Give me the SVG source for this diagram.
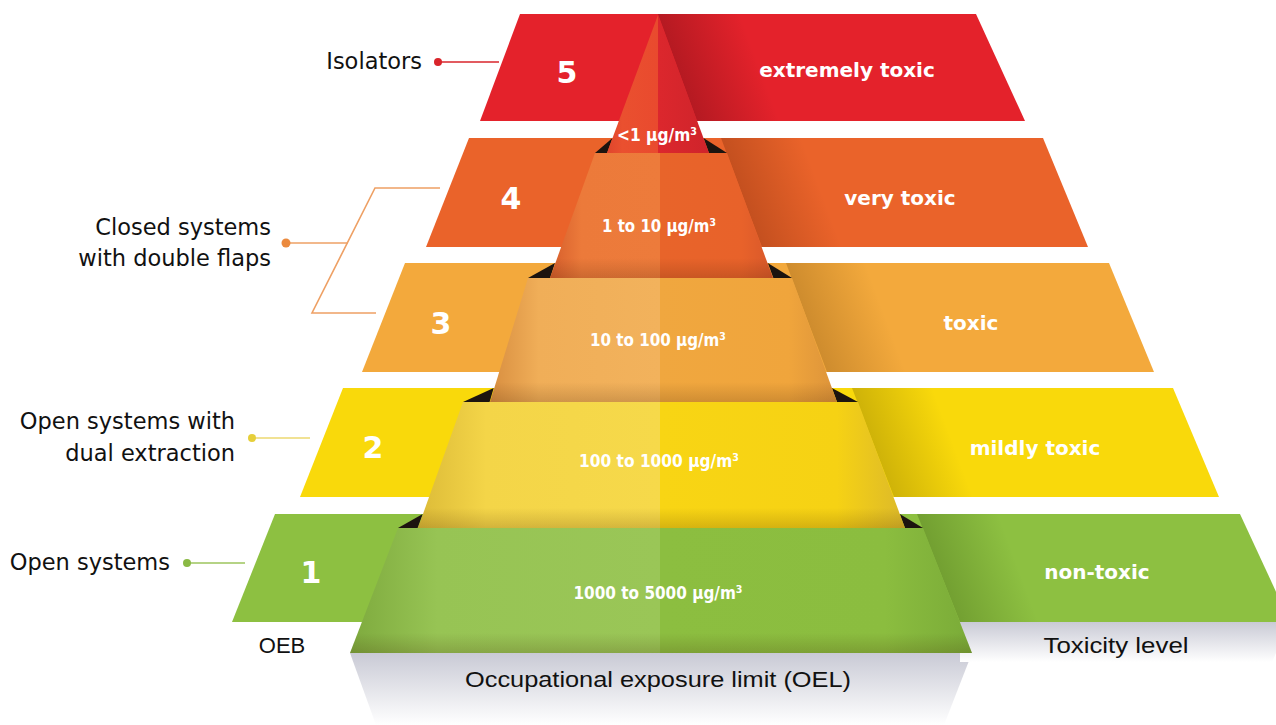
<svg xmlns="http://www.w3.org/2000/svg" width="1276" height="725" viewBox="0 0 1276 725">
  <defs>
    <style>
      .num{font-family:"DejaVu Sans","Liberation Sans",sans-serif;font-weight:bold;font-size:30px;fill:#fff;text-anchor:middle}
      .tox{font-family:"DejaVu Sans","Liberation Sans",sans-serif;font-weight:bold;font-size:20px;fill:#fff;text-anchor:middle}
      .oel{font-family:"DejaVu Sans Condensed","Liberation Sans Narrow","Liberation Sans",sans-serif;font-weight:bold;font-size:18px;fill:#fff;text-anchor:middle}
      .side{font-family:"DejaVu Sans","Liberation Sans",sans-serif;font-size:22.5px;fill:#111;text-anchor:end}
      .axis{font-family:"Liberation Sans Narrow","Liberation Sans",sans-serif;font-size:22px;fill:#111;text-anchor:middle}
      .gap{fill:#1c140f}
      .bshade{fill:url(#bottomShade)}
      .conn{fill:none;stroke-width:1.6}
    </style>

    <!-- face shading of the central pyramid sections: lighter left face, base right face -->
    <linearGradient id="seg5" x1="0" y1="0" x2="1" y2="0">
      <stop offset="0" stop-color="#e0452c"/>
      <stop offset="0.15" stop-color="#ea502f"/>
      <stop offset="0.5" stop-color="#e94a2e"/>
      <stop offset="0.5" stop-color="#dc272d"/>
      <stop offset="1" stop-color="#cf242b"/>
    </linearGradient>
    <linearGradient id="seg4" x1="0" y1="0" x2="1" y2="0">
      <stop offset="0" stop-color="#d65e2c"/>
      <stop offset="0.14" stop-color="#ec7a3a"/>
      <stop offset="0.495" stop-color="#ed7b3b"/>
      <stop offset="0.495" stop-color="#e8642a"/>
      <stop offset="0.86" stop-color="#e8622a"/>
      <stop offset="1" stop-color="#d8582a"/>
    </linearGradient>
    <linearGradient id="seg3" x1="0" y1="0" x2="1" y2="0">
      <stop offset="0" stop-color="#d88e40"/>
      <stop offset="0.14" stop-color="#f0ae58"/>
      <stop offset="0.49" stop-color="#f2b25c"/>
      <stop offset="0.49" stop-color="#f0a73f"/>
      <stop offset="0.86" stop-color="#f0a53c"/>
      <stop offset="1" stop-color="#dc933a"/>
    </linearGradient>
    <linearGradient id="seg2" x1="0" y1="0" x2="1" y2="0">
      <stop offset="0" stop-color="#dcbb38"/>
      <stop offset="0.14" stop-color="#f4d548"/>
      <stop offset="0.497" stop-color="#f6d94a"/>
      <stop offset="0.497" stop-color="#f8d514"/>
      <stop offset="0.86" stop-color="#f6d214"/>
      <stop offset="1" stop-color="#dcb92a"/>
    </linearGradient>
    <linearGradient id="seg1" x1="0" y1="0" x2="1" y2="0">
      <stop offset="0" stop-color="#7eaa3e"/>
      <stop offset="0.14" stop-color="#97c454"/>
      <stop offset="0.498" stop-color="#9ac657"/>
      <stop offset="0.498" stop-color="#8cbe40"/>
      <stop offset="0.86" stop-color="#8bbd3f"/>
      <stop offset="1" stop-color="#7aab38"/>
    </linearGradient>
    <linearGradient id="bottomShade" x1="0" y1="0" x2="0" y2="1">
      <stop offset="0.84" stop-color="#3a1a00" stop-opacity="0"/>
      <stop offset="1" stop-color="#3a1a00" stop-opacity="0.18"/>
    </linearGradient>

    <!-- cast shadows of the pyramid on the right part of each slab -->
    <linearGradient id="cast5" gradientUnits="userSpaceOnUse" x1="677" y1="67" x2="750" y2="40">
      <stop offset="0" stop-color="#5a0a10" stop-opacity="0.34"/>
      <stop offset="1" stop-color="#5a0a10" stop-opacity="0"/>
    </linearGradient>
    <linearGradient id="cast4" gradientUnits="userSpaceOnUse" x1="742" y1="192" x2="812" y2="166">
      <stop offset="0" stop-color="#5a1a00" stop-opacity="0.26"/>
      <stop offset="1" stop-color="#5a1a00" stop-opacity="0"/>
    </linearGradient>
    <linearGradient id="cast3" gradientUnits="userSpaceOnUse" x1="806" y1="317" x2="876" y2="291">
      <stop offset="0" stop-color="#5a3000" stop-opacity="0.24"/>
      <stop offset="1" stop-color="#5a3000" stop-opacity="0"/>
    </linearGradient>
    <linearGradient id="cast2" gradientUnits="userSpaceOnUse" x1="873" y1="442" x2="943" y2="416">
      <stop offset="0" stop-color="#4a3a00" stop-opacity="0.24"/>
      <stop offset="1" stop-color="#4a3a00" stop-opacity="0"/>
    </linearGradient>
    <linearGradient id="cast1" gradientUnits="userSpaceOnUse" x1="939" y1="568" x2="1009" y2="542">
      <stop offset="0" stop-color="#1f3a00" stop-opacity="0.24"/>
      <stop offset="1" stop-color="#1f3a00" stop-opacity="0"/>
    </linearGradient>

    <!-- floor shadows below the lowest tier -->
    <linearGradient id="floor" x1="0" y1="0" x2="0" y2="1">
      <stop offset="0" stop-color="#c9cad5"/>
      <stop offset="1" stop-color="#ffffff"/>
    </linearGradient>
  </defs>

  <rect width="1276" height="725" fill="#ffffff"/>

  <!-- floor shadows -->
  <g id="floor-shadow">
    <polygon points="350,653 972,653 944,725 376,725" fill="url(#floor)"/>
    <polygon points="960,622 1290,622 1272,662 960,662" fill="url(#floor)"/>
  </g>

  <!-- OEB 1 -->
  <g id="tier-1">
    <polygon points="275,514 1240,514 1290,622 232,622" fill="#8dc041"/>
    <polygon points="917,514 1040,514 1080,622 960,622" fill="url(#cast1)"/>
    <polygon class="gap" points="422.7,514 417.6,528 398,528"/>
    <polygon class="gap" points="899.8,514 905,528 923,528"/>
    <polygon points="398,528 923,528 972,653 350,653" fill="url(#seg1)"/>
    <polygon class="bshade" points="398,528 923,528 972,653 350,653"/>
    <text class="num" x="311" y="583">1</text>
    <text class="tox" x="1097" y="579">non-toxic</text>
    <text class="oel" x="658" y="599" textLength="169" lengthAdjust="spacingAndGlyphs">1000 to 5000 μg/m³</text>
  </g>

  <!-- OEB 2 -->
  <g id="tier-2">
    <polygon points="343,388 1173,388 1219,497 300,497" fill="#f9d90b"/>
    <polygon points="852,388 975,388 1015,497 894,497" fill="url(#cast2)"/>
    <polygon class="gap" points="493.7,388 489.6,402 463,402"/>
    <polygon class="gap" points="831.9,388 837,402 858,402"/>
    <polygon points="463,402 858,402 905,528 418,528" fill="url(#seg2)"/>
    <polygon class="bshade" points="463,402 858,402 905,528 418,528"/>
    <text class="num" x="373" y="458">2</text>
    <text class="tox" x="1035" y="455">mildly toxic</text>
    <text class="oel" x="659" y="467" textLength="160" lengthAdjust="spacingAndGlyphs">100 to 1000 μg/m³</text>
  </g>

  <!-- OEB 3 -->
  <g id="tier-3">
    <polygon points="405,263 1109,263 1154,372 362,372" fill="#f3a93c"/>
    <polygon points="786,263 910,263 950,372 827,372" fill="url(#cast3)"/>
    <polygon class="gap" points="555,263 550,278 528,278"/>
    <polygon class="gap" points="767.8,263 773.4,278 792,278"/>
    <polygon points="528,278 792,278 837,402 490,402" fill="url(#seg3)"/>
    <polygon class="bshade" points="528,278 792,278 837,402 490,402"/>
    <text class="num" x="441" y="334">3</text>
    <text class="tox" x="971" y="330">toxic</text>
    <text class="oel" x="658" y="346" textLength="136" lengthAdjust="spacingAndGlyphs">10 to 100 μg/m³</text>
  </g>

  <!-- OEB 4 -->
  <g id="tier-4">
    <polygon points="469,138 1043,138 1088,247 426,247" fill="#ea632a"/>
    <polygon points="721,138 845,138 885,247 762,247" fill="url(#cast4)"/>
    <polygon class="gap" points="612.5,138 607,153 595,153"/>
    <polygon class="gap" points="703.5,138 709,153 727,153"/>
    <polygon points="595,153 727,153 773,278 550,278" fill="url(#seg4)"/>
    <polygon class="bshade" points="595,153 727,153 773,278 550,278"/>
    <text class="num" x="511" y="209">4</text>
    <text class="tox" x="900" y="205">very toxic</text>
    <text class="oel" x="659" y="232" textLength="114" lengthAdjust="spacingAndGlyphs">1 to 10 μg/m³</text>
  </g>

  <!-- OEB 5 -->
  <g id="tier-5">
    <polygon points="520,14 976,14 1025,121 480,121" fill="#e4222b"/>
    <polygon points="658,14 780,14 820,121 697,121" fill="url(#cast5)"/>
    <polygon points="658,15 709,153 607,153" fill="url(#seg5)"/>
    <text class="num" x="567" y="83">5</text>
    <text class="tox" x="847" y="77">extremely toxic</text>
    <text class="oel" x="657" y="141" textLength="80" lengthAdjust="spacingAndGlyphs">&lt;1 μg/m³</text>
  </g>

  <!-- containment technology callouts -->
  <g id="label-isolators">
    <text class="side" x="422" y="69">Isolators</text>
  </g>
  <g id="label-closed">
    <text class="side" x="271" y="235">Closed systems</text>
    <text class="side" x="271" y="266">with double flaps</text>
  </g>
  <g id="label-dual">
    <text class="side" x="235" y="429">Open systems with</text>
    <text class="side" x="235" y="461">dual extraction</text>
  </g>
  <g id="label-open">
    <text class="side" x="170" y="570">Open systems</text>
  </g>

  <g id="connectors">
    <line class="conn" x1="438" y1="62" x2="499" y2="62" stroke="#d9252b" stroke-width="2"/>
    <circle cx="438" cy="62" r="4" fill="#d9252b"/>
    <line class="conn" x1="286" y1="243" x2="348" y2="243" stroke="#eea064"/>
    <polyline class="conn" points="440,188 375,188 312,313 376,313" stroke="#eea064"/>
    <circle cx="286" cy="243" r="4.5" fill="#eb8a3e"/>
    <line class="conn" x1="252" y1="438" x2="310" y2="438" stroke="#ecd870"/>
    <circle cx="252" cy="438" r="4" fill="#e6cf3a"/>
    <line class="conn" x1="187" y1="563" x2="245" y2="563" stroke="#9cc45c"/>
    <circle cx="187" cy="563" r="4" fill="#8ab944"/>
  </g>

  <!-- axis captions -->
  <g id="caption-oeb">
    <text class="axis" x="282" y="653">OEB</text>
  </g>
  <g id="caption-toxicity">
    <text class="axis" x="1116" y="653" textLength="145" lengthAdjust="spacingAndGlyphs">Toxicity level</text>
  </g>
  <g id="caption-oel">
    <text class="axis" x="658" y="687" textLength="386" lengthAdjust="spacingAndGlyphs">Occupational exposure limit (OEL)</text>
  </g>
</svg>
